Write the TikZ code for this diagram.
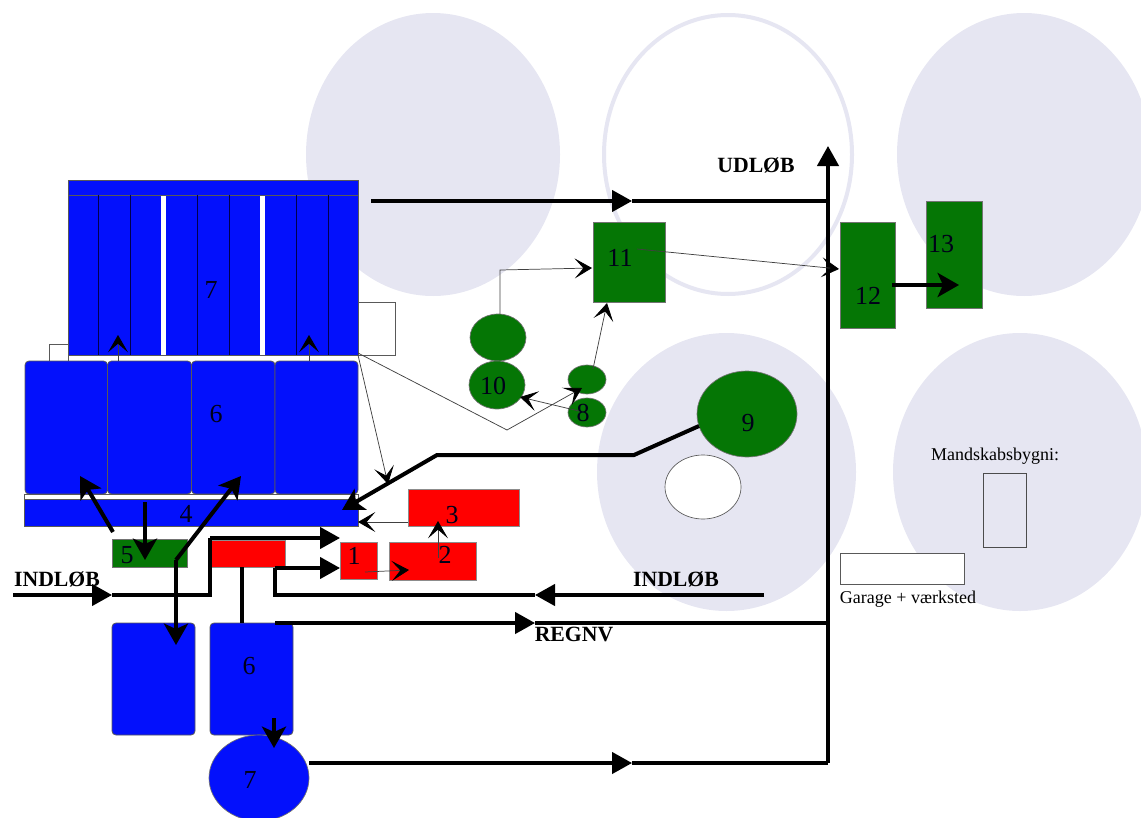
\documentclass[tikz,border=0pt]{standalone}
\usepackage{fontspec}
\setmainfont{Liberation Serif}
\usetikzlibrary{arrows.meta,shapes.geometric}
\definecolor{pale}{RGB}{230,230,242}
\definecolor{bluef}{RGB}{3,16,252}
\definecolor{greenf}{RGB}{5,118,5}
\definecolor{redf}{RGB}{255,0,0}
\newcommand\blk[6]{%
  \pgfmathsetmacro\bxw{abs(#5-#3)*0.75}%
  \pgfmathsetmacro\bxh{abs(#6-#4)*0.75}%
  \node[#1,minimum width=\bxw pt,minimum height=\bxh pt] (#2) at ({(#3+#5)/2},{(#4+#6)/2}) {};}
\newcommand\pt[2]{\coordinate (#1) at (#2);}
\tikzset{
  base/.style={inner sep=0pt,outer sep=0pt},
  circ/.style={base,ellipse,fill=pale},
  ring/.style={base,ellipse,fill=white,draw=pale,line width=3pt},
  blueb/.style={base,rectangle,fill=bluef,draw=black!65,line width=.6pt},
  blueR/.style={blueb,rounded corners=3pt},
  greenb/.style={base,rectangle,fill=greenf,draw=black!55,line width=.5pt},
  greene/.style={base,ellipse,fill=greenf,draw=black!55,line width=.5pt},
  redb/.style={base,rectangle,fill=redf,draw=black!45,line width=.5pt},
  whiteb/.style={base,rectangle,fill=white,draw=black!65,line width=.6pt},
  thickl/.style={line width=2.5pt,black,line join=miter},
  thinl/.style={line width=.55pt,black!75},
  heavy/.style={thickl,-{Stealth[length=15pt,width=16pt,inset=0pt]}},
  heavyn/.style={line width=3pt,black,-{Stealth[length=16pt,width=18pt,inset=4pt]}},
  open/.style={thinl,-{Stealth[length=13pt,width=15pt,inset=6.5pt,fill=black,black]}},
  num/.style={font=\fontsize{19.5}{20}\selectfont,inner sep=0pt,text=black!90!blue},
  bold/.style={font=\fontsize{16.3}{17}\bfseries\selectfont,inner sep=0pt},
  small/.style={font=\fontsize{13.5}{14}\selectfont,inner sep=0pt},
}
\begin{document}
\begin{tikzpicture}[x=0.75pt,y=-0.75pt]
\useasboundingbox (0,0) rectangle (1141,817);
\clip (0,0) rectangle (1141,817);
% site circles
\blk{circ}{s1}{306}{13}{560}{296}
\blk{ring}{s2}{604}{15}{852}{294}
\blk{circ}{s3}{897}{13}{1151}{296}
\blk{circ}{s4}{597}{333}{856}{611}
\blk{circ}{s5}{893}{333}{1147}{611}
% white annexes
\blk{whiteb}{an1}{49}{344}{68}{362}
\blk{whiteb}{an2}{358}{302}{395}{355}
% block 7
\blk{blueb}{b7}{68}{180}{358}{355}
\blk{blueb}{b7h}{68}{180}{358}{195}
\foreach \x in {98,130,197,229,296,328}{\draw[black!70!blue,line width=.55pt] (\x,195) -- (\x,355);}
\fill[white] (161,196) rectangle (166,354.5);
\fill[white] (260,196) rectangle (265,354.5);
% block 6
\blk{blueR}{b6a}{25}{361}{107.5}{494}
\blk{blueR}{b6b}{107.5}{361}{191.5}{494}
\blk{blueR}{b6c}{191.5}{361}{275}{494}
\blk{blueR}{b6d}{275}{361}{358}{494}
% bar 4
\blk{whiteb}{b4top}{24}{494}{358}{500}
\blk{blueb}{b4}{24}{499}{358}{526}
% 5 and red
\blk{greenb}{b5}{112}{539}{187}{567}
\blk{redb}{r0}{210}{540}{285}{567}
\blk{redb}{r1}{340}{542}{377}{579}
\blk{redb}{r2}{389}{542}{476}{580}
\blk{redb}{r3}{408}{489}{519}{526}
% lower blue
\blk{blueR}{lb1}{112}{623}{195}{735}
\blk{blueR}{lb2}{210}{623}{293}{735}
\blk{base,ellipse,fill=bluef,draw=black!55,line width=.5pt}{lc7}{209}{735}{309}{821}
% green
\blk{greenb}{g11}{593}{222}{665}{302}
\blk{greenb}{g12}{840}{222}{895}{328}
\blk{greenb}{g13}{926}{201}{982}{308}
\blk{greene}{e1}{470}{314}{526}{361}
\blk{greene}{e10}{469}{361}{525}{409}
\blk{greene}{e2}{568}{365}{606}{394}
\blk{greene}{e8}{568}{398}{606}{427}
\blk{greene}{e9}{697}{371}{797}{457}
\blk{base,ellipse,fill=white,draw=black!65,line width=.5pt}{w1}{665}{455}{741}{519}
% buildings
\blk{base,rectangle,draw=black!70,line width=.6pt}{man}{983}{473}{1026}{547}
\blk{whiteb}{gar}{840}{553}{964}{584}
% coordinates
\pt{t0}{371,201}\pt{tm}{632,201}\pt{te}{828,201}
\pt{vb}{828,763}\pt{vt}{828,146}
\pt{c7a}{309,763}\pt{c7m}{632,763}
\pt{ra}{275,623}\pt{rm}{535,623}\pt{re}{828,623}
\pt{ia}{764,595}\pt{im}{535,595}\pt{ib}{275,595}\pt{ic}{275,568}\pt{id}{340,568}
\pt{ja}{13,595}\pt{jm}{112,595}\pt{jb}{210,595}\pt{jc}{210,538}\pt{jd}{340,538}
\pt{fa}{242,567}\pt{fb}{242,623}
\pt{ka}{113,532}\pt{kb}{80,476}
\pt{la}{145,502}\pt{lb}{145,560}
\pt{ma}{241,476}\pt{mb}{176,560}\pt{mc}{176,645}
\pt{na}{274,718}\pt{nb}{274,748}
\pt{oa}{699,426}\pt{ob}{634,455}\pt{oc}{437,455}\pt{od}{342,510}
\pt{pa}{358,355}\pt{pb}{388,484}
\pt{qa}{358,353}\pt{qb}{507,430}\pt{qc}{582,388}
\pt{ua}{408,522}\pt{ub}{358,522}
\pt{va}{438,558}\pt{vc}{438,521}
\pt{wa}{365,572}\pt{wb}{409,570}
\pt{xa}{118,361}\pt{xb}{118,335}
\pt{ya}{309,361}\pt{yb}{309,335}
\pt{za}{500,314}\pt{zb}{500,270}\pt{zc}{592,268}
\pt{aa}{593,369}\pt{ab}{607,303}
\pt{ba}{583,412}\pt{bb}{520,397}
\pt{ca}{637,249}\pt{cb}{839,269}
\pt{da}{892,285}\pt{db}{959,285}
% thick connectors
\draw[heavy] (t0) -- (tm); \draw[thickl] (tm) -- (te);
\draw[heavy] (vb) -- (vt);
\draw[heavy] (c7a) -- (c7m); \draw[thickl] (c7m) -- (vb);
\draw[heavy] (ra) -- (rm); \draw[thickl] (rm) -- (re);
\draw[heavy] (ia) -- (im); \draw[thickl] (im) -- (ib) -- (ic); \draw[heavy] (ic) -- (id);
\draw[heavy] (ja) -- (jm); \draw[thickl] (jm) -- (jb) -- (jc); \draw[heavy] (jc) -- (jd);
\draw[thickl] (fa) -- (fb);
\draw[heavyn] (ka) -- (kb);
\draw[heavyn] (la) -- (lb);
\draw[heavyn] (mb) -- (ma);
\draw[heavyn] (mb) -- (mc);
\draw[heavyn] (na) -- (nb);
\draw[heavyn] (oa) -- (ob) -- (oc) -- (od);
\draw[heavyn] (da) -- (db);
% thin connectors
\draw[open] (pa) -- (pb);
\draw[open] (qa) -- (qb) -- (qc);
\draw[open] (ua) -- (ub);
\draw[open] (va) -- (vc);
\draw[open] (wa) -- (wb);
\draw[open] (xa) -- (xb);
\draw[open] (ya) -- (yb);
\draw[open] (za) -- (zb) -- (zc);
\draw[open] (aa) -- (ab);
\draw[open] (ba) -- (bb);
\draw[open] (ca) -- (cb);
% labels
\node[num] (n7) at (211,290) {7};
\node[num] (n6) at (216,414) {6};
\node[num] (n4) at (186,514) {4};
\node[num] (n5) at (127,555) {5};
\node[num] (n1) at (354,556) {1};
\node[num] (n2) at (445,555) {2};
\node[num] (n3) at (452,515) {3};
\node[num] (n10) at (493,386) {10};
\node[num] (n8) at (583,413) {8};
\node[num] (n9) at (748,423) {9};
\node[num] (n11) at (620,258) {11};
\node[num] (n12) at (868,296) {12};
\node[num] (n13) at (941,244) {13};
\node[num] (n6b) at (249,666) {6};
\node[num] (n7b) at (250,780) {7};
\node[bold] (tu) at (756,165) {UDLØB};
\node[bold] (ti1) at (57,579) {INDLØB};
\node[bold] (ti2) at (676,579) {INDLØB};
\node[bold] (tr) at (574,634) {REGNV};
\node[small] (tm1) at (995,456) {Mandskabsbygni:};
\node[small] (tg) at (908,599) {Garage + værksted};
\end{tikzpicture}
\end{document}
